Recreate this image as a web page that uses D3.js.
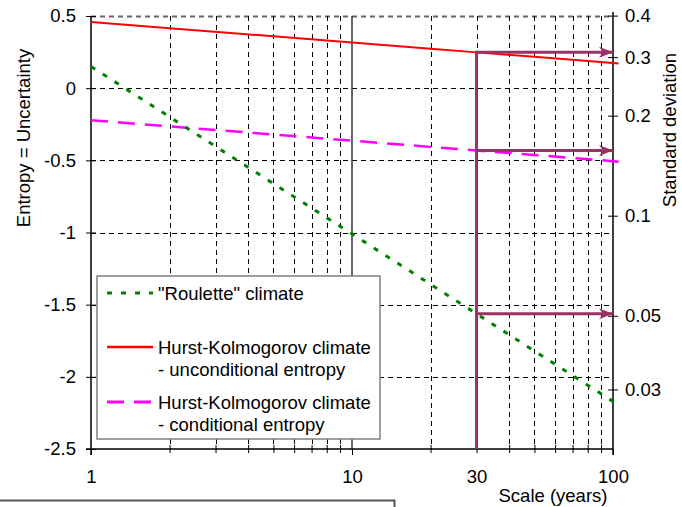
<!DOCTYPE html>
<html>
<head>
<meta charset="utf-8">
<script src="https://cdn.jsdelivr.net/npm/d3@7/dist/d3.min.js"></script>
<style>
  body { margin: 0; background: #fff; }
  svg { display: block; font-family: "Liberation Sans", Arial, sans-serif; }
</style>
</head>
<body>
<svg id="chart" width="682" height="507"></svg>
<script>
// scales (years) and entropy values
var scales = [1, 2, 5, 10, 20, 30, 50, 100, 105];
var roulette = [0.15, -0.199, -0.661, -1.01, -1.359, -1.563, -1.821, -2.17, -2.195];
var hkUncond = [0.458, 0.415, 0.359, 0.316, 0.273, 0.248, 0.217, 0.174, 0.171];
var hkCond = [-0.222, -0.265, -0.321, -0.364, -0.407, -0.432, -0.463, -0.506, -0.509];

var entropyTicks = [0.5, 0, -0.5, -1, -1.5, -2, -2.5];
var sigmaTicks = [0.4, 0.3, 0.2, 0.1, 0.05, 0.03];
var scaleLabels = [1, 10, 30, 100];
var minorScales = [2, 3, 4, 5, 6, 7, 8, 9, 20, 40, 50, 60, 70, 80, 90];
var gridScales = [2, 3, 4, 5, 6, 7, 8, 9, 20, 30, 40, 50, 60, 70, 80, 90];
var focusScale = 30;

var svg = d3.select("#chart");
var pLeft = 91, pRight = 613, pTop = 16, pBottom = 449;
var fs = "18.5px";

var x = d3.scaleLog().domain([1, 100]).range([pLeft, pRight]);
var y = d3.scaleLinear().domain([0.5, -2.5]).range([pTop, pBottom]);
// gaussian entropy = ln(sigma) + 0.5 ln(2 pi e)
var c = 0.5 * Math.log(2 * Math.PI * Math.E);
var ySig = d3.scaleLog().domain([Math.exp(0.5 - c), Math.exp(-2.5 - c)]).range([pTop, pBottom]);

var defs = svg.append("defs");
defs.append("marker").attr("id", "head")
    .attr("markerUnits", "userSpaceOnUse")
    .attr("viewBox", "0 -6 15 12")
    .attr("refX", 14).attr("refY", 0)
    .attr("markerWidth", 15).attr("markerHeight", 12)
    .attr("orient", "auto")
  .append("path").attr("d", "M0,-5.5L14,0L0,5.5L4,0Z").attr("fill", "#993366");

// grid
var grid = svg.append("g");
grid.selectAll(".hg").data(entropyTicks.slice(0, 6)).enter().append("line")
    .attr("x1", pLeft).attr("x2", pRight)
    .attr("y1", function(d) { return Math.round(y(d)) + 0.5; })
    .attr("y2", function(d) { return Math.round(y(d)) + 0.5; })
    .attr("stroke", function(d) { return d == 0.5 ? "#666" : "#000"; })
    .attr("stroke-width", function(d) { return d == 0.5 ? 2 : 1; })
    .attr("stroke-dasharray", "5,4");
grid.selectAll(".vg").data(gridScales).enter().append("line")
    .attr("x1", function(d) { return Math.round(x(d)) + 0.5; })
    .attr("x2", function(d) { return Math.round(x(d)) + 0.5; })
    .attr("y1", pTop).attr("y2", pBottom)
    .attr("stroke", "#000").attr("stroke-dasharray", "5,4");
grid.append("line")
    .attr("x1", x(10)).attr("x2", x(10)).attr("y1", pTop).attr("y2", pBottom)
    .attr("stroke", "#333").attr("stroke-width", 1.5);

// axes
var yAxis = svg.append("g").attr("transform", "translate(" + pLeft + ",0)")
    .call(d3.axisLeft(y).tickValues(entropyTicks).tickSize(5).tickPadding(10)
      .tickFormat(function(d) { return String(d); }));
yAxis.selectAll(".tick line").attr("x1", 5);

var sAxis = svg.append("g").attr("transform", "translate(" + pRight + ",0)")
    .call(d3.axisRight(ySig).tickValues(sigmaTicks).tickSize(5).tickPadding(7)
      .tickFormat(function(d) { return String(d); }));
sAxis.selectAll(".tick line").attr("x1", -5);

var xAxis = svg.append("g").attr("transform", "translate(0," + pBottom + ")")
    .call(d3.axisBottom(x).tickValues(scaleLabels.concat(minorScales)).tickSize(6).tickPadding(15)
      .tickFormat(function(d) { return scaleLabels.indexOf(d) >= 0 ? String(d) : ""; }));
xAxis.selectAll(".tick line")
    .attr("y1", function(d) { return (d == 1 || d == 10 || d == 100) ? 0 : -4; })
    .attr("y2", function(d) { return (d == 1 || d == 10 || d == 100) ? 6 : 4; });

svg.selectAll(".domain").remove();
svg.selectAll(".tick text").attr("font-size", fs).attr("font-family", "Liberation Sans, Arial").attr("fill", "#000");
svg.append("line").attr("x1", pLeft).attr("x2", pLeft).attr("y1", pTop).attr("y2", pBottom + 6).attr("stroke", "#000").attr("stroke-width", 1.5);
svg.append("line").attr("x1", pRight).attr("x2", pRight).attr("y1", pTop - 4).attr("y2", pBottom + 6).attr("stroke", "#000").attr("stroke-width", 1.5);
svg.append("line").attr("x1", pLeft - 5).attr("x2", pRight).attr("y1", pBottom).attr("y2", pBottom).attr("stroke", "#000").attr("stroke-width", 1.5);

// series
var line = function(vals) {
  return d3.line().x(function(d, i) { return x(scales[i]); }).y(function(d) { return y(d); })(vals);
};
svg.append("path").attr("d", line(hkCond)).attr("fill", "none")
    .attr("stroke", "#ff00ff").attr("stroke-width", 2.5).attr("stroke-dasharray", "17,10");
svg.append("path").attr("d", line(roulette)).attr("fill", "none")
    .attr("stroke", "#008000").attr("stroke-width", 3).attr("stroke-dasharray", "5,9");
svg.append("path").attr("d", line(hkUncond)).attr("fill", "none")
    .attr("stroke", "#ff0000").attr("stroke-width", 2);

// arrows at scale 30
var fi = scales.indexOf(focusScale);
var arrowYs = [hkUncond[fi], hkCond[fi], roulette[fi]];
svg.append("line").attr("x1", x(focusScale)).attr("x2", x(focusScale))
    .attr("y1", y(hkUncond[fi]) - 1.5).attr("y2", pBottom)
    .attr("stroke", "#993366").attr("stroke-width", 3);
svg.selectAll(".arrow").data(arrowYs).enter().append("line")
    .attr("x1", x(focusScale)).attr("x2", pRight)
    .attr("y1", function(d) { return y(d); }).attr("y2", function(d) { return y(d); })
    .attr("stroke", "#993366").attr("stroke-width", 3)
    .attr("marker-end", "url(#head)");

// legend
var lg = svg.append("g");
lg.append("rect").attr("x", 97).attr("y", 276).attr("width", 283).attr("height", 163)
    .attr("fill", "#fff").attr("stroke", "#808080").attr("stroke-width", 1.5);
var legendItems = [
  { color: "#008000", dash: "5,9", w: 3, y: 293, text: ["\"Roulette\" climate"] },
  { color: "#ff0000", dash: null, w: 2.5, y: 347, text: ["Hurst-Kolmogorov climate", "- unconditional entropy"] },
  { color: "#ff00ff", dash: "17,10", w: 3, y: 402, text: ["Hurst-Kolmogorov climate", "- conditional entropy"] }
];
legendItems.forEach(function(it) {
  lg.append("line").attr("x1", 107).attr("x2", 153).attr("y1", it.y).attr("y2", it.y)
    .attr("stroke", it.color).attr("stroke-width", it.w).attr("stroke-dasharray", it.dash);
  it.text.forEach(function(t, j) {
    lg.append("text").attr("x", 158).attr("y", it.y + 6.5 + j * 22.5)
      .attr("font-size", fs).text(t);
  });
});

// titles
svg.append("text").attr("transform", "translate(30,138) rotate(-90)")
    .attr("text-anchor", "middle").attr("font-size", fs).text("Entropy = Uncertainty");
svg.append("text").attr("transform", "translate(676,130) rotate(-90)")
    .attr("text-anchor", "middle").attr("font-size", fs).text("Standard deviation");
svg.append("text").attr("x", 553).attr("y", 502)
    .attr("text-anchor", "middle").attr("font-size", fs).text("Scale (years)");

// frame remnant at the bottom
svg.append("path").attr("d", "M0,500.5H394.5V507").attr("fill", "none")
    .attr("stroke", "#555").attr("stroke-width", 2);
</script>
</body>
</html>
